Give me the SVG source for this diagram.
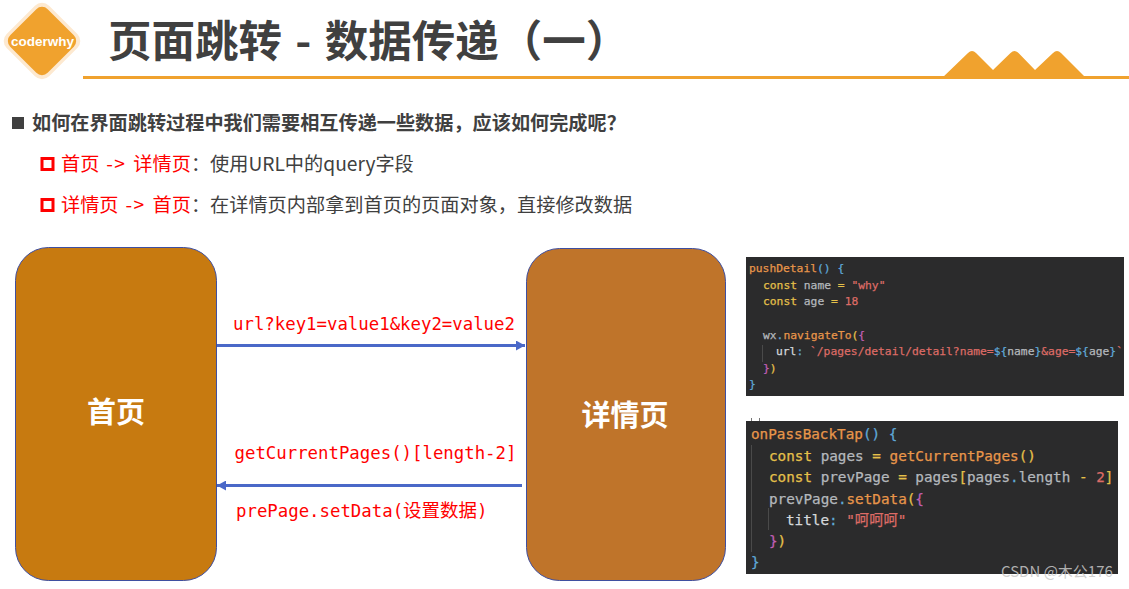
<svg xmlns="http://www.w3.org/2000/svg" width="1129" height="589" viewBox="0 0 1129 589">
<style>
text{white-space:pre}
.cjk{font-family:"Noto Sans CJK SC","Noto Sans",sans-serif}
.dk{fill:#404040}
.rd{fill:#ff0000}
.lb{font-family:"DejaVu Sans Mono","Noto Sans CJK SC",monospace;font-size:17.35px;fill:#ff0000}
.nd{stroke:#3f4fa0;stroke-width:1}
.nt{font-family:"Noto Sans CJK SC",sans-serif;font-weight:700;font-size:29px;fill:#fff;text-anchor:middle}
.c{font-family:"DejaVu Sans Mono","Noto Sans CJK SC",monospace;stroke-width:.25px}
.c1{font-size:11.3px}
.c2{font-size:14.3px}
.o{fill:#e8964a;stroke:#e8964a}.b{fill:#5fa8d8;stroke:#5fa8d8}.y{fill:#e5c04a;stroke:#e5c04a}.g{fill:#b4b8bc;stroke:#b4b8bc}.r{fill:#dd6b66;stroke:#dd6b66}.p{fill:#c05fb5;stroke:#c05fb5}.s{fill:#d4d7da;stroke:#d4d7da}
.wire{fill:none;stroke:#4a68c8;stroke-width:3}
.guide{stroke:#4a4a4a}
.box{fill:none;stroke:#ff0000;stroke-width:3}
</style>
<defs>
<marker id="ah" markerUnits="userSpaceOnUse" markerWidth="10" markerHeight="10" refX="9" refY="5" orient="auto"><path d="M0 0L9 5L0 10Z" fill="#4a68c8"/></marker>
</defs>
<g id="logo">
<rect x="12" y="11" width="60" height="60" rx="10" transform="rotate(45 42 41)" fill="#fde9d0"/>
<rect x="15.500" y="14.500" width="53" height="53" rx="8" transform="rotate(45 42 41)" fill="#f0a22e"/>
<text x="42.500" y="46" text-anchor="middle" font-family="Liberation Sans,Arial,sans-serif" font-weight="700" font-size="13.500" fill="#fff">coderwhy</text>
</g>
<g id="header">
<text class="cjk dk" x="108" y="57" font-size="43.500" font-weight="700" word-spacing="3.500">页面跳转 - 数据传递（一）</text>
<rect x="83" y="76" width="1046" height="3" fill="#f0a22e"/>
<path d="M941 79L968 53Q972 49 976 53L993 70L1010.500 53Q1014.500 49 1018.500 53L1035 70L1053 53Q1057 49 1061 53L1087 79Z" fill="#f0a22e"/>
</g>
<g id="bullets">
<rect x="12" y="117" width="12" height="12" fill="#404040"/>
<text class="cjk dk" x="32" y="130" font-size="19.170" font-weight="700">如何在界面跳转过程中我们需要相互传递一些数据，应该如何完成呢？</text>
<rect class="box" x="42" y="158.500" width="11" height="11"/>
<text class="cjk" x="61" y="171" font-size="19.200" fill="#404040"><tspan class="rd" word-spacing="2.500">首页 <tspan letter-spacing="1.500">-&gt;</tspan> 详情页</tspan>：使用URL中的query字段</text>
<rect class="box" x="42" y="199.500" width="11" height="11"/>
<text class="cjk" x="61" y="212" font-size="19.200" fill="#404040"><tspan class="rd" word-spacing="2.500">详情页 <tspan letter-spacing="1.500">-&gt;</tspan> 首页</tspan>：在详情页内部拿到首页的页面对象，直接修改数据</text>
</g>
<g id="node-home">
<rect class="nd" x="15.500" y="247.500" width="201" height="333" rx="33" fill="#c77a10"/>
<text class="nt" x="116" y="423">首页</text>
</g>
<g id="node-detail">
<rect class="nd" x="526.500" y="248.500" width="199" height="332" rx="33" fill="#bf742a"/>
<text class="nt" x="625" y="426">详情页</text>
</g>
<g id="connectors">
<line class="wire" x1="217" y1="345.500" x2="525" y2="345.500" marker-end="url(#ah)"/>
<line class="wire" x1="522" y1="485.500" x2="217" y2="485.500" marker-end="url(#ah)"/>
</g>
<g id="labels">
<text class="lb" x="233" y="330">url?key1=value1&amp;key2=value2</text>
<text class="lb" x="234.500" y="459">getCurrentPages()[length-2]</text>
<text class="lb" x="236" y="517">prePage.setData(<tspan font-size="18.500">设置数据</tspan>)</text>
</g>
<g id="code-1">
<rect x="746" y="257" width="378" height="139" fill="#2b2b2c"/>
<line class="guide" x1="762.500" y1="345" x2="762.500" y2="362"/>
<g class="c c1">
<text x="749" y="272"><tspan class="o">pushDetail</tspan><tspan class="b">() {</tspan></text>
<text x="763" y="289"><tspan class="y">const</tspan><tspan class="g"> name </tspan><tspan class="y">=</tspan><tspan class="r"> "why"</tspan></text>
<text x="763" y="305"><tspan class="y">const</tspan><tspan class="g"> age </tspan><tspan class="y">=</tspan><tspan class="r"> 18</tspan></text>
<text x="763" y="339"><tspan class="g">wx</tspan><tspan class="b">.</tspan><tspan class="o">navigateTo</tspan><tspan class="y">(</tspan><tspan class="p">{</tspan></text>
<text x="776" y="355"><tspan class="s">url</tspan><tspan class="b">:</tspan><tspan class="r"> `/pages/detail/detail?name=</tspan><tspan class="b">${</tspan><tspan class="g">name</tspan><tspan class="b">}</tspan><tspan class="r">&amp;age=</tspan><tspan class="b">${</tspan><tspan class="g">age</tspan><tspan class="b">}</tspan><tspan class="r">`</tspan></text>
<text x="763" y="372"><tspan class="p">}</tspan><tspan class="y">)</tspan></text>
<text x="749" y="388"><tspan class="b">}</tspan></text>
</g>
</g>
<g id="code-2">
<path d="M751.500 418v4h8v-4" fill="none" stroke="#777"/>
<rect x="746" y="421" width="372" height="153" fill="#2b2b2c"/>
<line class="guide" x1="751.500" y1="445" x2="751.500" y2="552"/>
<line class="guide" x1="768.500" y1="508" x2="768.500" y2="530"/>
<g class="c c2">
<text x="751" y="439"><tspan class="o">onPassBackTap</tspan><tspan class="b">() {</tspan></text>
<text x="769" y="461"><tspan class="y">const</tspan><tspan class="g"> pages </tspan><tspan class="y">=</tspan><tspan class="o"> getCurrentPages</tspan><tspan class="y">()</tspan></text>
<text x="769" y="482"><tspan class="y">const</tspan><tspan class="g"> prevPage </tspan><tspan class="y">=</tspan><tspan class="g"> pages</tspan><tspan class="y">[</tspan><tspan class="g">pages</tspan><tspan class="b">.</tspan><tspan class="g">length </tspan><tspan class="y">-</tspan><tspan class="r"> 2</tspan><tspan class="y">]</tspan></text>
<text x="769" y="504"><tspan class="g">prevPage</tspan><tspan class="b">.</tspan><tspan class="o">setData</tspan><tspan class="y">(</tspan><tspan class="p">{</tspan></text>
<text x="786" y="525"><tspan class="s">title</tspan><tspan class="b">:</tspan><tspan class="r"> "呵呵呵"</tspan></text>
<text x="769" y="546"><tspan class="p">}</tspan><tspan class="y">)</tspan></text>
<text x="751" y="567"><tspan class="b">}</tspan></text>
</g>
</g>
<text id="watermark" x="1001" y="577" font-family="Noto Sans CJK SC,sans-serif" font-size="15" fill="#c8c8c8" fill-opacity=".85">CSDN @木公176</text>
</svg>
